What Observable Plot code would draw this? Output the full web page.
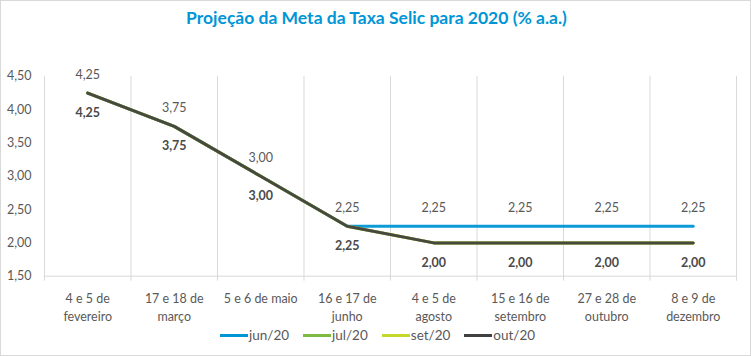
<!DOCTYPE html>
<html>
<head>
<meta charset="utf-8">
<script src="https://cdn.jsdelivr.net/npm/d3@7"></script>
<script src="https://cdn.jsdelivr.net/npm/@observablehq/plot@0.6"></script>
<style>
  html, body { margin: 0; padding: 0; background: #fff; }
  #wrap { position: relative; width: 751px; height: 356px; box-sizing: border-box; border: 1px solid #d9d9d9; font-family: Lato, "Open Sans", sans-serif; overflow: hidden; }
  #title { position: absolute; left: 0; top: 6px; width: 751px; text-align: center; color: #0096D6; font-weight: bold; font-size: 17.5px; }
  #chart { position: absolute; left: -1px; top: 39px; }
  #legend { position: absolute; left: 219px; top: 326px; display: flex; align-items: center; font-size: 13.5px; color: #595959; }
  .item { display: flex; align-items: center; margin-right: 14px; }
  .sw { width: 28px; height: 3px; margin-right: 1px; }
</style>
</head>
<body>
<div id="wrap">
  <div id="title">Projeção da Meta da Taxa Selic para 2020 (% a.a.)</div>
  <div id="chart"></div>
  <div id="legend"></div>
</div>
<script>
const meetings = ["4 e 5 de fevereiro", "17 e 18 de março", "5 e 6 de maio", "16 e 17 de junho", "4 e 5 de agosto", "15 e 16 de setembro", "27 e 28 de outubro", "8 e 9 de dezembro"];
const tickLabels = ["4 e 5 de\nfevereiro", "17 e 18 de\nmarço", "5 e 6 de maio", "16 e 17 de\njunho", "4 e 5 de\nagosto", "15 e 16 de\nsetembro", "27 e 28 de\noutubro", "8 e 9 de\ndezembro"];
const seriesNames = ["jun/20", "jul/20", "set/20", "out/20"];
const seriesColors = ["#0096D6", "#7DBB42", "#C5D92D", "#404040"];
const jun20 = [4.25, 3.75, 3.00, 2.25, 2.25, 2.25, 2.25, 2.25];
const jul20 = [4.25, 3.75, 3.00, 2.25, 2.00, 2.00, 2.00, 2.00];
const set20 = [4.25, 3.75, 3.00, 2.25, 2.00, 2.00, 2.00, 2.00];
const out20 = [4.25, 3.75, 3.00, 2.25, 2.00, 2.00, 2.00, 2.00];
const yTicks = [1.5, 2.0, 2.5, 3.0, 3.5, 4.0, 4.5];

const seriesValues = [jun20, jul20, set20, out20];
const data = [];
seriesNames.forEach((s, k) => seriesValues[k].forEach((v, i) => data.push({series: s, i, meeting: meetings[i], value: v})));
const idx = meetings.map((_, i) => i);
const edges = meetings.map((_, i) => i - 0.5).concat([meetings.length - 0.5]);
const fmt = v => v.toFixed(2).replace(".", ",");

const plot = Plot.plot({
  width: 751,
  height: 285,
  marginLeft: 44,
  marginRight: 14,
  marginTop: 36,
  marginBottom: 49,
  style: {fontFamily: "Lato, 'Open Sans', sans-serif", fontSize: "12.5px", color: "#595959", background: "transparent"},
  x: {domain: [-0.5, meetings.length - 0.5], label: null},
  y: {domain: [1.5, 4.5], label: null},
  color: {domain: seriesNames, range: seriesColors},
  marks: [
    Plot.ruleX(edges, {stroke: "#d9d9d9", strokeWidth: 1, insetBottom: -5}),
    Plot.ruleY([1.5], {stroke: "#d9d9d9", strokeWidth: 1}),
    Plot.axisY({ticks: yTicks, tickSize: 0, tickPadding: 13, tickFormat: fmt, fontSize: 12.5, fill: "#595959", label: null}),
    Plot.axisX({ticks: idx, tickSize: 0, tickPadding: 15, tickFormat: i => tickLabels[i], lineHeight: 1.38, fontSize: 12.5, fill: "#595959", label: null}),
    Plot.line(data, {x: "i", y: "value", z: "series", stroke: "series", strokeWidth: 3, strokeOpacity: 0.95}),
    Plot.text(data.filter(d => d.series === "jun/20"), {x: "i", y: "value", text: d => fmt(d.value), dy: -18, fill: "#595959", fontSize: 12.5}),
    Plot.text(data.filter(d => d.series === "out/20"), {x: "i", y: "value", text: d => fmt(d.value), dy: 20, fill: "#4a4a4a", fontSize: 12.5, fontWeight: "bold"})
  ]
});
document.getElementById("chart").appendChild(plot);

const legend = document.getElementById("legend");
seriesNames.forEach((s, k) => {
  const it = document.createElement("div");
  it.className = "item";
  const sw = document.createElement("div");
  sw.className = "sw";
  sw.style.background = seriesColors[k];
  const t = document.createElement("span");
  t.textContent = s;
  it.appendChild(sw);
  it.appendChild(t);
  legend.appendChild(it);
});
</script>
</body>
</html>
